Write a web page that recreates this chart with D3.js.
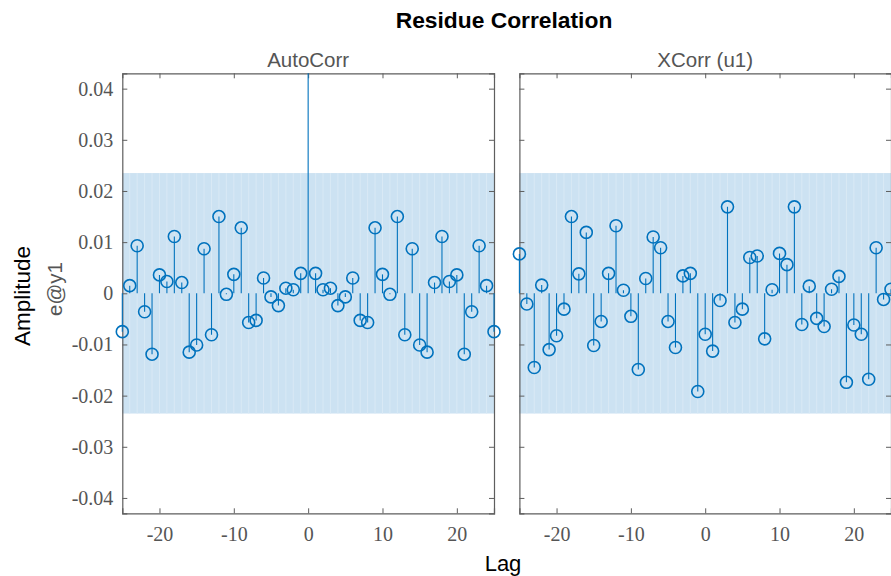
<!DOCTYPE html>
<html>
<head>
<meta charset="utf-8">
<script src="https://cdn.jsdelivr.net/npm/d3@7"></script>
<style>
  html, body { margin: 0; padding: 0; background: #fff; }
  svg { display: block; }
</style>
</head>
<body>
<svg id="chart" width="891" height="576"></svg>
<script>
// Lags shared by both panels
const lags = [-25,-24,-23,-22,-21,-20,-19,-18,-17,-16,-15,-14,-13,-12,-11,-10,-9,-8,-7,-6,-5,-4,-3,-2,-1,
              0,1,2,3,4,5,6,7,8,9,10,11,12,13,14,15,16,17,18,19,20,21,22,23,24,25];

// Residual autocorrelation of e@y1
const autoCorr = [-0.0075, 0.0015, 0.0093, -0.0036, -0.0119, 0.0036, 0.0023, 0.0111, 0.0021, -0.0115,
                  -0.0101, 0.0087, -0.0081, 0.0150, -0.0002, 0.0037, 0.0128, -0.0057, -0.0053, 0.0030,
                  -0.0007, -0.0024, 0.0010, 0.0007, 0.0039,
                  1.0,
                  0.0039, 0.0007, 0.0010, -0.0024, -0.0007, 0.0030, -0.0053, -0.0057, 0.0128, 0.0037,
                  -0.0002, 0.0150, -0.0081, 0.0087, -0.0101, -0.0115, 0.0021, 0.0111, 0.0023, 0.0036,
                  -0.0119, -0.0036, 0.0093, 0.0015, -0.0075];

// Cross-correlation between residual and input u1
const xCorr = [0.0077, -0.0021, -0.0145, 0.0016, -0.0110, -0.0083, -0.0031, 0.0150, 0.0038, 0.0119,
               -0.0102, -0.0055, 0.0039, 0.0132, 0.0006, -0.0045, -0.0149, 0.0029, 0.0110, 0.0089,
               -0.0055, -0.0106, 0.0034, 0.0039, -0.0192,
               -0.0080,
               -0.0113, -0.0014, 0.0169, -0.0057, -0.0031, 0.0070, 0.0073, -0.0089, 0.0007, 0.0078,
               0.0056, 0.0169, -0.0061, 0.0014, -0.0049, -0.0065, 0.0008, 0.0033, -0.0174, -0.0062,
               -0.0080, -0.0168, 0.0089, -0.0012, 0.0008];

// Confidence bound for each panel
const confBound = [0.0235, 0.0235];

const panelTitles = ["AutoCorr", "XCorr (u1)"];
const yTicks = [-0.04, -0.03, -0.02, -0.01, 0, 0.01, 0.02, 0.03, 0.04];
const xTicks = [-20, -10, 0, 10, 20];
const yLimit = [-0.043, 0.043];
const xLimit = [-25, 25];

const svg = d3.select("#chart");
const blue = "#0072BD";
const axisGray = "#5e5e5e";
const labelGray = "#555";
const sans = "'Liberation Sans', Arial, Helvetica, sans-serif";
const serif = "'Liberation Serif', 'DejaVu Serif', serif";

// tick labels use a plain hyphen for negatives
const fmtY = d => d === 0 ? "0" : d3.format(".2f")(d).replace("\u2212", "-");
const fmtX = d => String(d);

const plotTop = 73.3, plotBottom = 513.3;
const panels = [
  { x0: 122.3, x1: 494.0, values: autoCorr, title: panelTitles[0], bound: confBound[0], showY: true },
  { x0: 519.4, x1: 891.0, values: xCorr, title: panelTitles[1], bound: confBound[1], showY: false }
];

const y = d3.scaleLinear().domain(yLimit).range([plotBottom, plotTop]);

panels.forEach((p, i) => {
  const x = d3.scaleLinear().domain(xLimit).range([p.x0, p.x1]);
  const g = svg.append("g");

  // clip: vertical limits of the axes, a little slack sideways for edge markers
  const clipId = "clip" + i;
  svg.append("clipPath").attr("id", clipId)
    .append("rect").attr("x", p.x0 - 12).attr("y", plotTop)
    .attr("width", p.x1 - p.x0 + 24).attr("height", plotBottom - plotTop);

  // confidence region
  g.append("rect")
    .attr("x", x(xLimit[0])).attr("width", x(xLimit[1]) - x(xLimit[0]))
    .attr("y", y(p.bound)).attr("height", y(-p.bound) - y(p.bound))
    .attr("fill", "#cce2f2");
  g.append("g").selectAll("line").data(lags.slice(1, -1)).join("line")
    .attr("x1", d => x(d)).attr("x2", d => x(d))
    .attr("y1", y(p.bound)).attr("y2", y(-p.bound))
    .attr("stroke", "#d9e9f5").attr("stroke-width", 1);

  // axes box with inward ticks
  const axB = d3.axisBottom(x).tickValues(xTicks).tickSize(-5).tickPadding(14).tickFormat(fmtX);
  const axT = d3.axisTop(x).tickValues(xTicks).tickSize(-5).tickFormat("");
  const axL = d3.axisLeft(y).tickValues(yTicks).tickSize(-5).tickPadding(9).tickFormat(fmtY);
  const axR = d3.axisRight(y).tickValues(yTicks).tickSize(-5).tickFormat("");
  if (!p.showY) axL.tickFormat("");

  const axes = [
    g.append("g").attr("transform", `translate(0,${plotBottom})`).call(axB),
    g.append("g").attr("transform", `translate(0,${plotTop})`).call(axT),
    g.append("g").attr("transform", `translate(${p.x0},0)`).call(axL),
    g.append("g").attr("transform", `translate(${p.x1},0)`).call(axR)
  ];
  axes.forEach(a => {
    a.select(".domain").attr("stroke", axisGray).attr("stroke-width", 1.2);
    a.selectAll(".tick line").attr("stroke", axisGray).attr("stroke-width", 1);
    a.selectAll(".tick text")
      .attr("fill", labelGray)
      .style("font-family", serif)
      .style("font-size", "20px");
  });

  // stems and markers
  const pts = lags.map((l, k) => ({ lag: l, v: p.values[k] }));
  const marks = g.append("g").attr("clip-path", `url(#${clipId})`);
  marks.selectAll("line.stem").data(pts).join("line")
    .attr("class", "stem")
    .attr("x1", d => x(d.lag)).attr("x2", d => x(d.lag))
    .attr("y1", y(0)).attr("y2", d => y(d.v))
    .attr("stroke", blue).attr("stroke-width", 1.1);
  marks.selectAll("circle").data(pts).join("circle")
    .attr("cx", d => x(d.lag)).attr("cy", d => y(d.v))
    .attr("r", 6)
    .attr("fill", "none").attr("stroke", blue).attr("stroke-width", 1.6);

  // panel title
  svg.append("text")
    .attr("x", (p.x0 + p.x1) / 2).attr("y", 66.5)
    .attr("text-anchor", "middle")
    .attr("fill", labelGray)
    .style("font-family", sans)
    .style("font-size", "20.5px")
    .text(p.title);
});

// figure title and shared labels
svg.append("text")
  .attr("x", 504).attr("y", 28)
  .attr("text-anchor", "middle")
  .style("font-family", sans)
  .style("font-size", "22.8px").style("font-weight", "bold")
  .text("Residue Correlation");

svg.append("text")
  .attr("transform", "translate(30,296) rotate(-90)")
  .attr("text-anchor", "middle")
  .style("font-family", sans)
  .style("font-size", "22.5px")
  .text("Amplitude");

svg.append("text")
  .attr("transform", "translate(62,289) rotate(-90)")
  .attr("text-anchor", "middle")
  .attr("fill", labelGray)
  .style("font-family", sans)
  .style("font-size", "20.5px")
  .text("e@y1");

svg.append("text")
  .attr("x", 503).attr("y", 571)
  .attr("text-anchor", "middle")
  .style("font-family", sans)
  .style("font-size", "22px")
  .text("Lag");
</script>
</body>
</html>
